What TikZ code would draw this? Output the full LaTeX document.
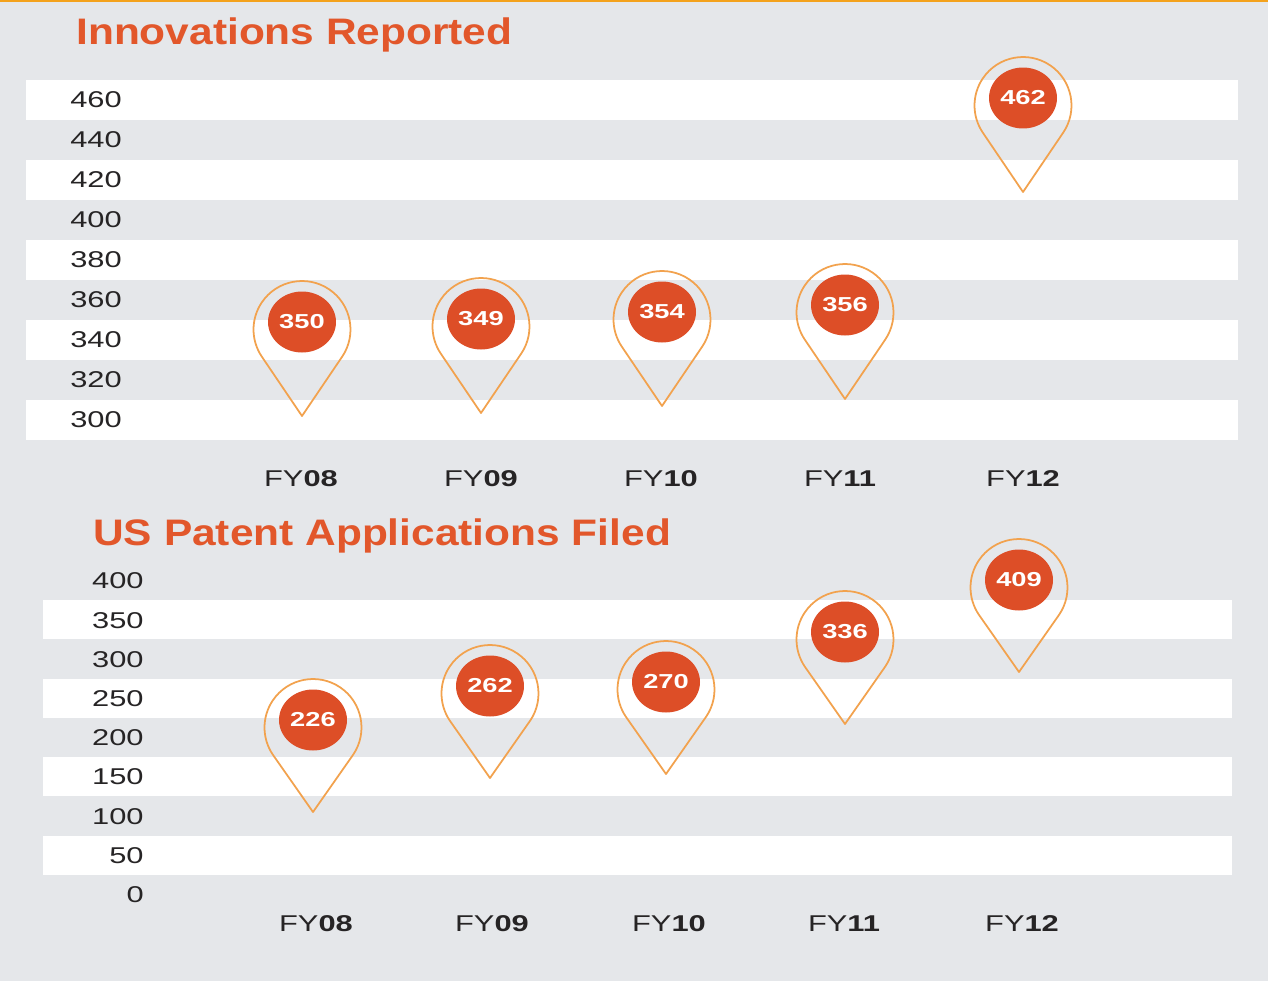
\documentclass[tikz,border=0pt]{standalone}
\usepackage{fontspec}
\setmainfont{Liberation Sans}[FakeStretch=1.35]
\newfontfamily\titlefont{Liberation Sans}[FakeStretch=1.15]
\usepackage{tikz}
\usetikzlibrary{shapes.geometric}
\definecolor{bggray}{HTML}{E5E7EA}
\definecolor{topline}{HTML}{F4A21C}
\definecolor{titleorange}{HTML}{E2572B}
\definecolor{bubblered}{HTML}{DD4E27}
\definecolor{pinorange}{HTML}{F2A24E}
\definecolor{labelgray}{HTML}{262425}
\tikzset{
  band/.style={fill=white},
  charttitle/.style={anchor=base west, inner sep=0pt, text=titleorange,
    font=\titlefont\fontsize{21}{24}\selectfont\bfseries},
  tick/.style={inner sep=0pt, text=labelgray, font=\fontsize{13}{15}\selectfont},
  year/.style={inner sep=0pt, text=labelgray, font=\fontsize{13}{15}\selectfont},
  bubble/.style={ellipse, fill=bubblered, text=white, inner sep=0pt,
    minimum width=1.36cm, minimum height=1.22cm,
    font=\fontsize{11.5}{13}\selectfont\bfseries},
  pinline/.style={draw=pinorange, line width=1pt, line join=round}
}
\begin{document}
\begin{tikzpicture}[x=0.02cm,y=-0.02cm]
    \useasboundingbox (0,0) rectangle (1268,981);
    \fill[bggray] (0,0) rectangle (1268,981);
    \fill[topline] (0,0) rectangle (1268,2);

    % Innovations Reported
    \node[charttitle] (innotitle) at (76,44) {Innovations Reported};
    \foreach \y in {80,160,240,320,400}
      \fill[band] (26,\y) rectangle (1238,\y+40);
    \foreach \v [count=\i from 0] in {460,440,420,400,380,360,340,320,300}
      \node[tick,anchor=west] (itick\v) at (70,100+40*\i) {\v};
    \foreach \n/\x in {08/301,09/481,10/661,11/840,12/1023}
      \node[year] (iyear\n) at (\x,479) {FY\textbf{\n}};
    \foreach \n/\x/\y/\v in {i08/302/322/350,i09/481/319/349,i10/662/312/354,
                             i11/845/305/356,i12/1023/98/462}{
      \coordinate (\n tip) at (\x,\y+94);
      \draw[pinline] (\n tip) -- ([shift={(-34.1:0.97cm)}]\x,\y+7.5)
        arc[start angle=-34.1, end angle=214.1, radius=0.97cm] -- cycle;
      \node[bubble] (\n) at (\x,\y) {\v};
    }

    % US Patent Applications Filed
    \node[charttitle] (pattitle) at (93,545) {US Patent Applications Filed};
    \foreach \y in {600,678.5,757,835.5}
      \fill[band] (43,\y) rectangle (1232,\y+39.3);
    \foreach \v [count=\i from 0] in {400,350,300,250,200,150,100,50,0}
      \node[tick,anchor=east] (ptick\v) at (144,581+39.2*\i) {\v};
    \foreach \n/\x in {08/316,09/492,10/669,11/844,12/1022}
      \node[year] (pyear\n) at (\x,924) {FY\textbf{\n}};
    \foreach \n/\x/\y/\v in {p08/313/720/226,p09/490/686/262,p10/666/682/270,
                             p11/845/632/336,p12/1019/580/409}{
      \coordinate (\n tip) at (\x,\y+92);
      \draw[pinline] (\n tip) -- ([shift={(-34.1:0.97cm)}]\x,\y+7.5)
        arc[start angle=-34.1, end angle=214.1, radius=0.97cm] -- cycle;
      \node[bubble] (\n) at (\x,\y) {\v};
    }
\end{tikzpicture}
\end{document}
